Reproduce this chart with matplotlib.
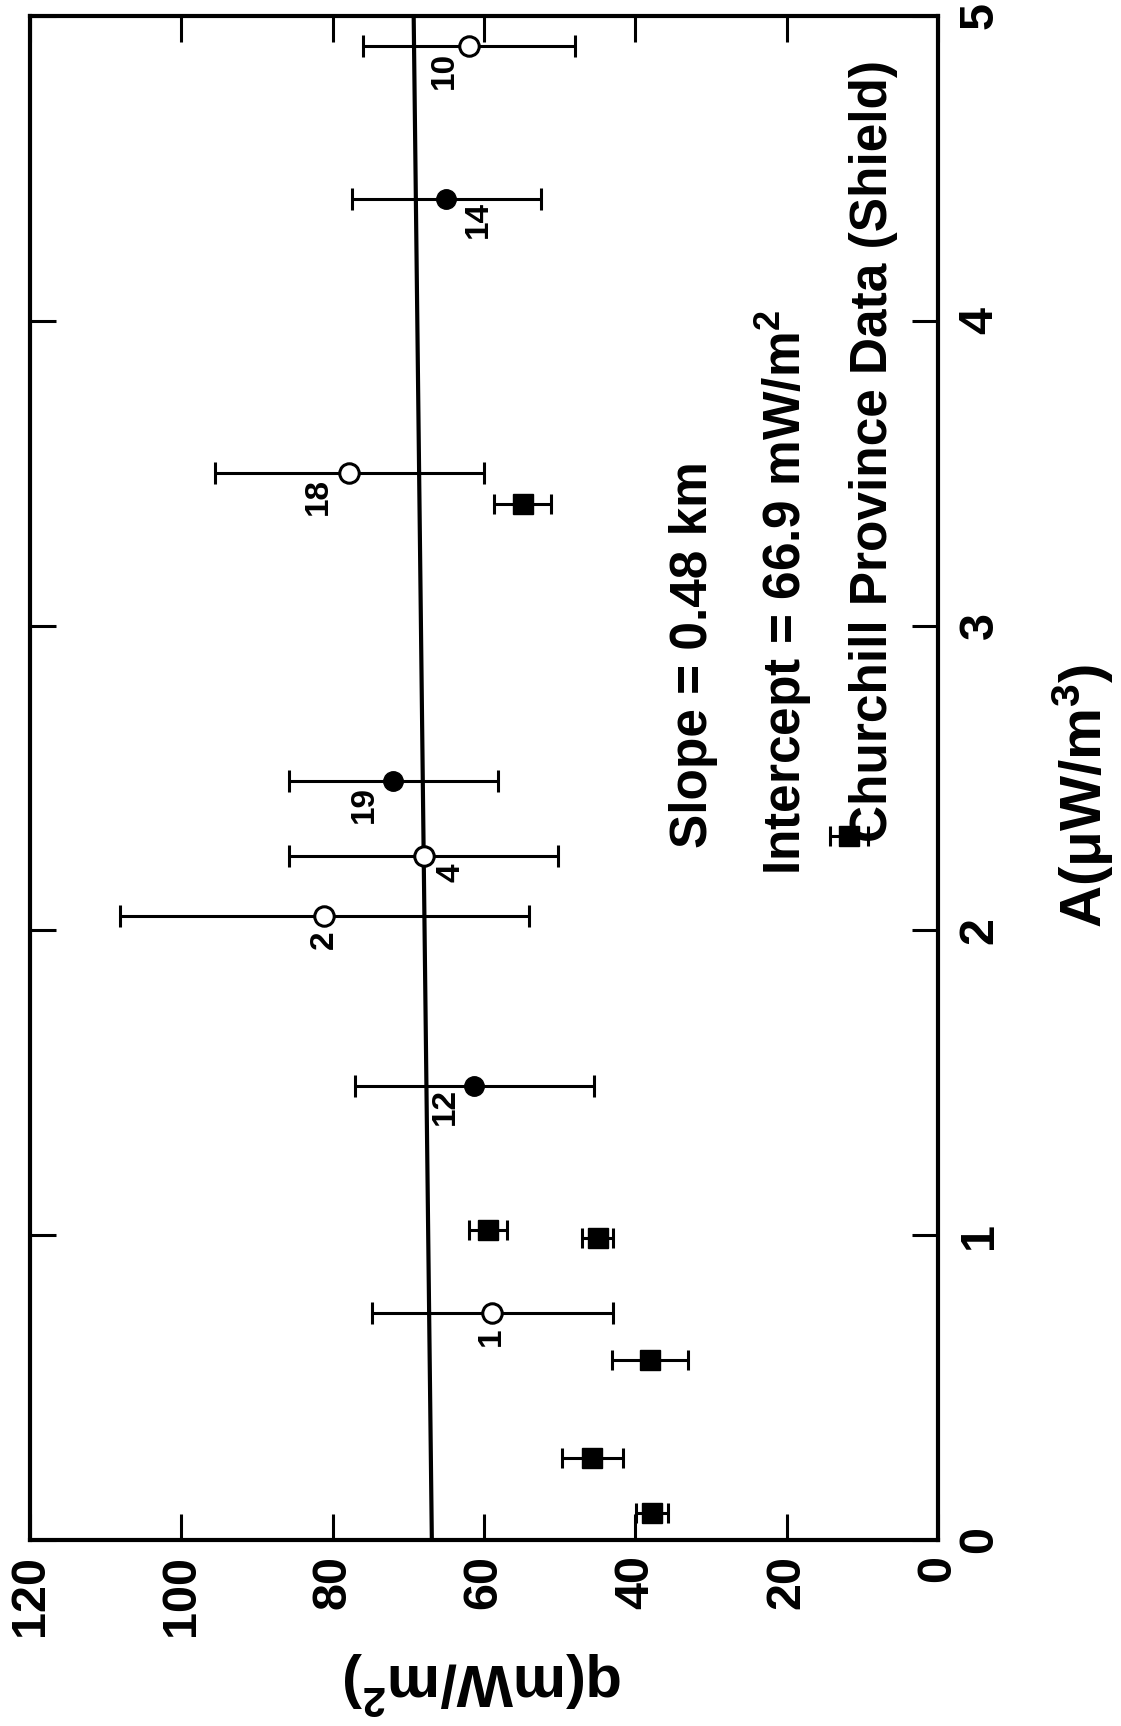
import numpy as np
import matplotlib
matplotlib.use('Agg')
import matplotlib.pyplot as plt

plt.rcParams['font.family'] = ['Liberation Sans', 'DejaVu Sans']
plt.rcParams['font.weight'] = 'bold'
plt.rcParams['mathtext.fontset'] = 'custom'
plt.rcParams['mathtext.rm'] = 'Liberation Sans:bold'
plt.rcParams['mathtext.it'] = 'Liberation Sans:italic:bold'
plt.rcParams['mathtext.bf'] = 'Liberation Sans:bold'

# heat flow q (mW/m^2) vs heat production A (uW/m^3), Churchill province
# open circles - numbered sites
open_A = [4.90, 3.50, 2.245, 2.048, 0.744]
open_q = [62.0, 77.8, 68.0, 81.1, 58.9]
open_err = [14.0, 17.8, 17.8, 27.0, 15.9]
open_id = ['10', '18', '4', '2', '1']

# filled circles - numbered sites
filled_A = [4.40, 2.49, 1.49]
filled_q = [65.0, 72.0, 61.3]
filled_err = [12.5, 13.8, 15.8]
filled_id = ['14', '19', '12']

# filled squares
square_A = [3.40, 2.31, 1.017, 0.99, 0.59, 0.268, 0.088]
square_q = [54.9, 11.8, 59.5, 45.0, 38.1, 45.7, 37.8]
square_err = [3.8, 2.5, 2.5, 2.1, 5.0, 4.0, 2.1]

# fitted line
slope = 0.48
intercept = 66.9

q_ticks = [0, 20, 40, 60, 80, 100, 120]
A_ticks = [0, 1, 2, 3, 4, 5]

# label offsets in points for the site numbers
label_off = {'10': (-18, -17), '14': (23, -15), '18': (-22, -17), '19': (-21, -17),
             '4': (20, -12), '2': (0, -17), '12': (-21, -15), '1': (-1, -17)}

fig = plt.figure(figsize=(11.21, 17.26), dpi=100)
# page is turned on its side: A runs up, q runs right-to-left
ax = fig.add_axes([0.0268, 0.1078, 0.810, 0.883])

A_line = np.array([0, 5])
ax.plot(intercept + slope * A_line, A_line, color='black', lw=3, zorder=2)

eb = dict(fmt='none', ecolor='black', elinewidth=2.2, capthick=2.2, zorder=3)
ax.errorbar(open_q, open_A, xerr=open_err, capsize=8, **eb)
ax.errorbar(filled_q, filled_A, xerr=filled_err, capsize=8, **eb)
ax.errorbar(square_q, square_A, xerr=square_err, capsize=7, **eb)

ax.plot(open_q, open_A, 'o', ms=14, mfc='white', mec='black', mew=2.2, zorder=4)
ax.plot(filled_q, filled_A, 'o', ms=14, mfc='black', mec='black', zorder=4)
ax.plot(square_q, square_A, 's', ms=14, mfc='black', mec='black', zorder=4)

for q, a, s in zip(open_q + filled_q, open_A + filled_A, open_id + filled_id):
    ax.annotate(s, (q, a), xytext=label_off[s], textcoords='offset points',
                rotation=90, ha='center', va='center', fontsize=24, fontweight='bold')

ax.set_xlim(120, 0)
ax.set_ylim(0, 5)
ax.set_xticks(q_ticks)
ax.set_yticks(A_ticks)
ax.tick_params(axis='both', direction='in', length=19, width=2.2,
               top=True, bottom=True, left=True, right=True)
ax.tick_params(axis='x', labelrotation=90, labelsize=35, pad=11)
ax.tick_params(axis='y', labelleft=False, labelright=True, labelrotation=90,
               labelsize=35, pad=14)
for lab in ax.get_yticklabels():
    lab.set_verticalalignment('center')
for sp in ax.spines.values():
    sp.set_linewidth(3)

fig.text(0.431, 1 - 1683 / 1726, r'q(mW/m$^2$)', rotation=180, ha='center',
         va='center', fontsize=43, fontweight='bold')
fig.text(0.966, 0.539, 'A(\u03bcW/m$^3$)', rotation=90, ha='center',
         va='center', fontsize=42, fontweight='bold')

fig.text(0.619, 0.5087, 'Slope = 0.48 km', rotation=90, ha='center',
         va='bottom', fontsize=37, fontweight='bold')
fig.text(0.6994, 0.4930, r'Intercept = 66.9 mW/m$^2$', rotation=90, ha='center',
         va='bottom', fontsize=37, fontweight='bold')
fig.text(0.7788, 0.5122, 'Churchill Province Data (Shield)', rotation=90,
         ha='center', va='bottom', fontsize=37, fontweight='bold')

fig.savefig('out.png', dpi=100, facecolor='white')
